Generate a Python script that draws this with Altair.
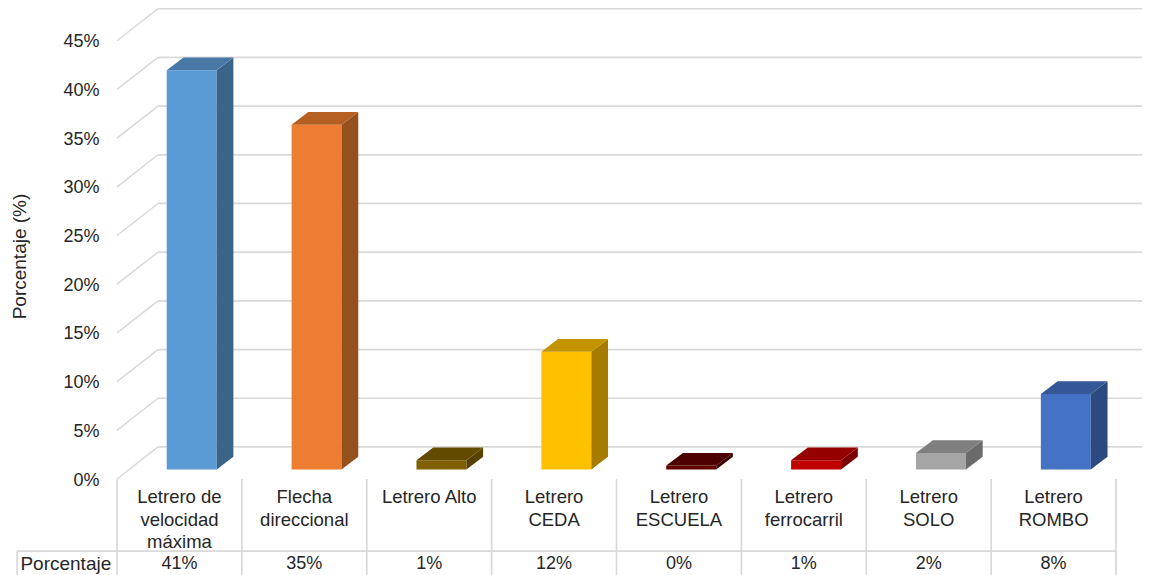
import altair as alt
import pandas as pd

categories = ["Letrero de\nvelocidad\nmáxima", "Flecha\ndireccional", "Letrero Alto", "Letrero\nCEDA",
              "Letrero\nESCUELA", "Letrero\nferrocarril", "Letrero\nSOLO", "Letrero\nROMBO"]
values = [41.0, 35.4, 0.95, 12.1, 0.4, 0.95, 1.7, 7.75]
table_labels = ["41%", "35%", "1%", "12%", "0%", "1%", "2%", "8%"]
front_colors = ["#5B9BD5", "#ED7D31", "#7F6000", "#FFC000", "#660000", "#C00000", "#A5A5A5", "#4472C4"]
side_colors = ["#3A6488", "#96501E", "#574200", "#A67C00", "#3F0000", "#7C0000", "#6B6B6B", "#2C4A7F"]
top_colors = ["#4878A6", "#B55F20", "#624A00", "#C49400", "#4D0000", "#940000", "#7F7F7F", "#345796"]
y_ticks = [0, 5, 10, 15, 20, 25, 30, 35, 40, 45]

X_DOMAIN = [-0.873, 8.208]
Y_DOMAIN = [-9.856, 48.36]
WALL_DX, WALL_DY = 0.328, 3.29
BAR_DX, BAR_DY = 0.134, 1.3
BAR_X0, BAR_W, BAR_BASE = 0.398, 0.40, 0.975
W, H = 1134, 567

xs = alt.Scale(domain=X_DOMAIN, nice=False, zero=False)
ys = alt.Scale(domain=Y_DOMAIN, nice=False, zero=False)

back_grid = pd.DataFrame({"x": [WALL_DX] * len(y_ticks), "x2": [X_DOMAIN[1]] * len(y_ticks),
                          "y": [t + WALL_DY for t in y_ticks]})
side_rows = []
for t in y_ticks:
    side_rows += [{"t": t, "x": 0.0, "y": t}, {"t": t, "x": WALL_DX, "y": t + WALL_DY}]
side_grid = pd.DataFrame(side_rows)

front_rows, side_rows, top_rows, label_rows = [], [], [], []
for i, v in enumerate(values):
    x0 = i + BAR_X0
    x1 = x0 + BAR_W
    b = BAR_BASE
    t = b + v
    front_rows.append({"x": x0, "x2": x1, "y": b, "y2": t, "c": front_colors[i]})
    side_rows += [
        {"id": i, "x": x1, "y": t, "y2": b, "c": side_colors[i]},
        {"id": i, "x": x1 + BAR_DX, "y": t + BAR_DY, "y2": b + BAR_DY, "c": side_colors[i]},
    ]
    top_rows += [
        {"id": i, "x": x0, "y": t, "y2": t, "c": top_colors[i]},
        {"id": i, "x": x0 + BAR_DX, "y": t + BAR_DY, "y2": t, "c": top_colors[i]},
        {"id": i, "x": x1, "y": t + BAR_DY, "y2": t, "c": top_colors[i]},
        {"id": i, "x": x1 + BAR_DX, "y": t + BAR_DY, "y2": t + BAR_DY, "c": top_colors[i]},
    ]
    label_rows.append({"x": i + 0.5, "cat": categories[i], "val": table_labels[i]})
front = pd.DataFrame(front_rows)
sides = pd.DataFrame(side_rows)
tops = pd.DataFrame(top_rows)
labels = pd.DataFrame(label_rows)

GRID = "#D9D9D9"
TXT = "#262626"
FONT = "Liberation Sans"
X = alt.X("x:Q", scale=xs, axis=None)
Y = alt.Y("y:Q", scale=ys, axis=alt.Axis(
    values=y_ticks, labelExpr="datum.value + '%'", grid=False, domain=False, ticks=False,
    offset=-91, labelPadding=0, labelOffset=1, labelFont=FONT, labelFontSize=18, labelColor=TXT,
    title="Porcentaje (%)", titleFont=FONT, titleFontSize=19, titleColor=TXT, titleFontWeight="normal",
    titleX=-70, titleY=248))

wall = alt.Chart(back_grid).mark_rule(color=GRID, strokeWidth=1.7).encode(x=X, x2="x2:Q", y=Y)
oblique = alt.Chart(side_grid).mark_line(color=GRID, strokeWidth=1.5).encode(x=X, y=Y, detail="t:N")

rect = alt.Chart(front).mark_rect().encode(x=X, x2="x2:Q", y=Y, y2="y2:Q", color=alt.Color("c:N", scale=None))
side = alt.Chart(sides).mark_area(orient="vertical").encode(x=X, y=Y, y2="y2:Q", color=alt.Color("c:N", scale=None),
                                                            detail="id:N")
top = alt.Chart(tops).mark_area(orient="vertical").encode(x=X, y=Y, y2="y2:Q", color=alt.Color("c:N", scale=None),
                                                          detail="id:N")

# data table under the plot
n = len(categories)
table_v = pd.DataFrame({"x": list(range(n + 1)), "y": [0.0] * (n + 1), "y2": [Y_DOMAIN[0]] * (n + 1)})
v_lines = alt.Chart(table_v).mark_rule(color=GRID, strokeWidth=1.7).encode(x=X, y=Y, y2="y2:Q")
ROW_Y = -7.4
LEFT_X = -0.8
h_line = alt.Chart(pd.DataFrame({"x": [LEFT_X], "x2": [float(n)], "y": [ROW_Y]})).mark_rule(
    color=GRID, strokeWidth=1.7).encode(x=X, x2="x2:Q", y=Y)
left_line = alt.Chart(pd.DataFrame({"x": [LEFT_X], "y": [ROW_Y], "y2": [Y_DOMAIN[0]]})).mark_rule(
    color=GRID, strokeWidth=1.7).encode(x=X, y=Y, y2="y2:Q")

cat_df = labels.assign(y=-0.95)
cat_text = alt.Chart(cat_df).mark_text(font=FONT, fontSize=18.5, color=TXT, lineBreak="\n", lineHeight=22.3,
                                       baseline="top", align="center").encode(x=X, y=Y, text="cat:N")
val_df = labels.assign(y=-8.75)
val_text = alt.Chart(val_df).mark_text(font=FONT, fontSize=18, color=TXT, baseline="middle", align="center").encode(
    x=X, y=Y, text="val:N")
row_head = alt.Chart(pd.DataFrame({"x": [-0.41], "y": [-8.75], "t": ["Porcentaje"]})).mark_text(
    font=FONT, fontSize=19, color=TXT, baseline="middle", align="center").encode(x=X, y=Y, text="t:N")

chart = alt.layer(wall, oblique, v_lines, h_line, left_line, rect, side, top, cat_text, val_text, row_head).properties(
    width=W, height=H, padding=0, background="white",
    autosize=alt.AutoSizeParams(type="none"),
).configure_view(stroke=None)

chart.save("out.html", embed_options={"renderer": "svg", "actions": False})
